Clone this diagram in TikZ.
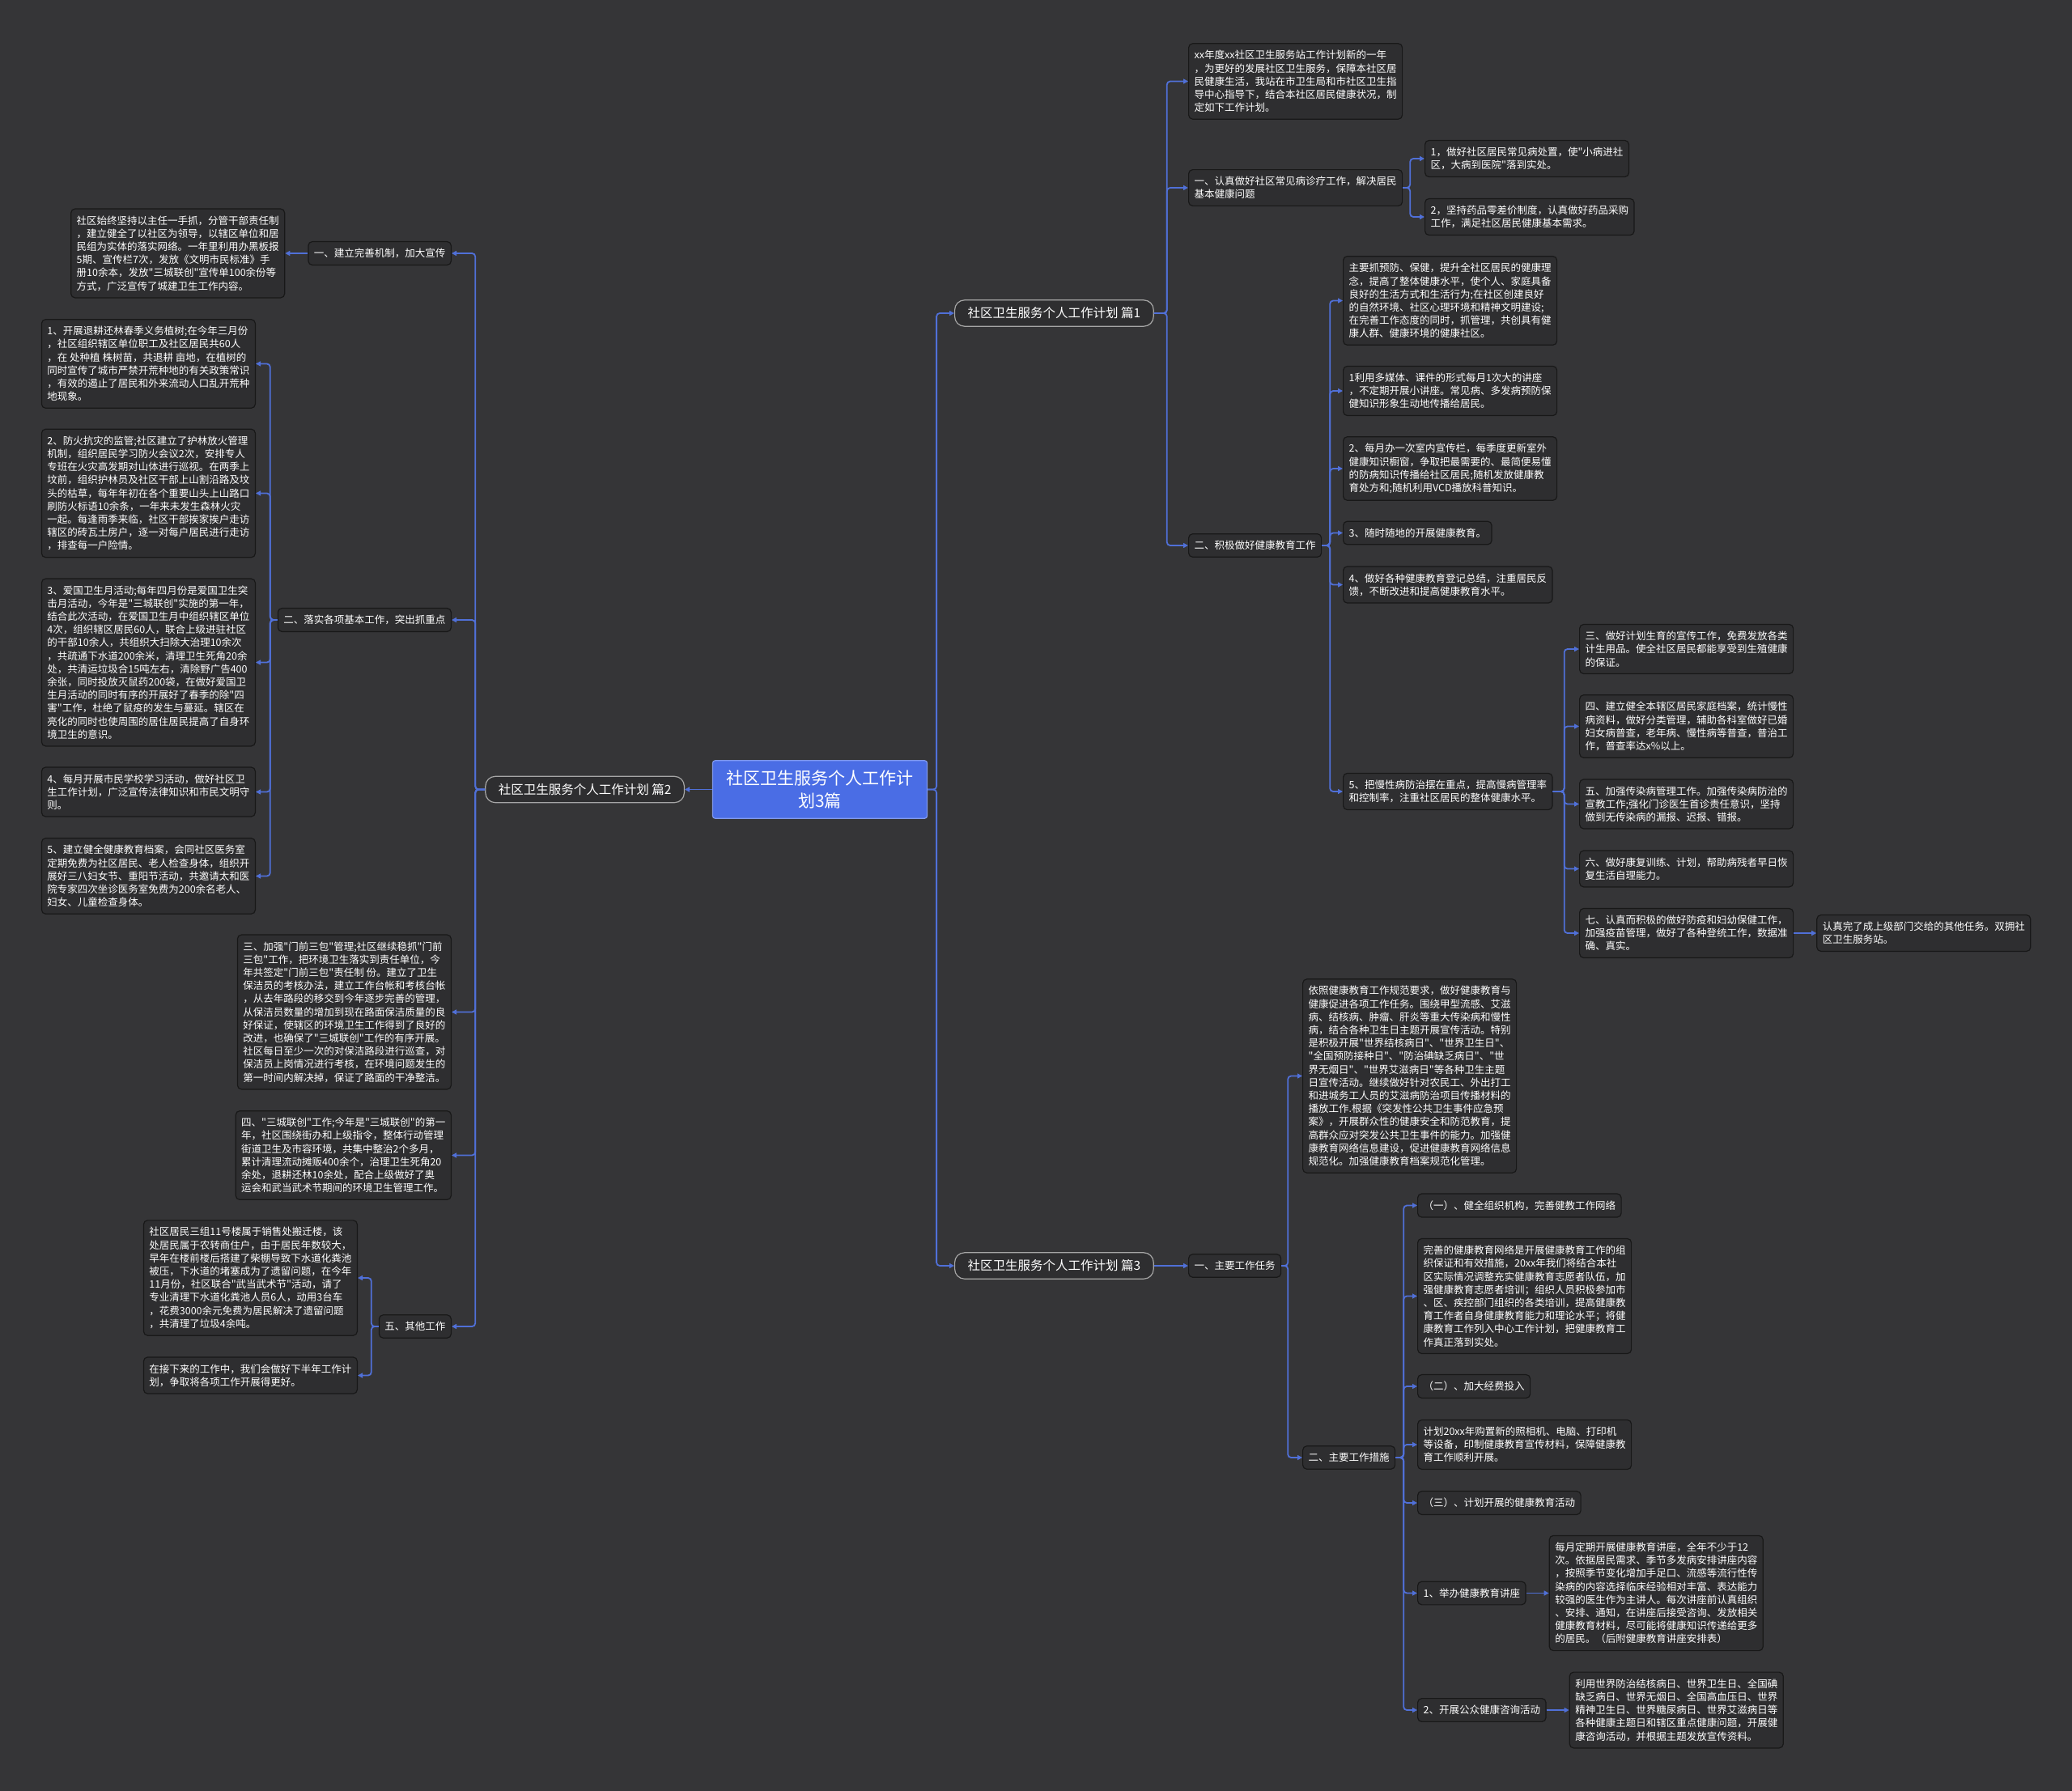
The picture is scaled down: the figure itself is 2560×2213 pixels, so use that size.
\documentclass[tikz,border=0pt]{standalone}
\usepackage{fontspec}
\newfontfamily\cjk{Noto Sans CJK SC}
\usetikzlibrary{arrows.meta, positioning}
\definecolor{bgcol}{HTML}{353537}
\definecolor{boxcol}{HTML}{2E2E30}
\definecolor{boxline}{HTML}{181818}
\definecolor{linecol}{HTML}{5070D8}
\definecolor{rootcol}{HTML}{4A6DE5}

\begin{document}
\begin{tikzpicture}[x=1pt, y=-1pt, node distance=28pt,
    box/.style={draw=boxline, fill=boxcol, rounded corners=5pt, line width=1.2pt,
      text=white, align=left, inner xsep=7pt, inner ysep=8.5pt,
      font=\cjk\fontsize{12.5}{16.2}\selectfont},
    plan/.style={draw=gray!70, fill=boxcol, rounded corners=12pt, line width=1.2pt,
      text=white, inner xsep=16pt, inner ysep=9pt, font=\cjk\fontsize{15.5}{18}\selectfont},
    root/.style={draw=rootcol!70!white, fill=rootcol, rounded corners=3pt, line width=1.2pt,
      text=white, align=center, inner xsep=17pt, inner ysep=12pt,
      font=\cjk\fontsize{21}{28}\selectfont},
    link/.style={draw=linecol, line width=1.8pt, rounded corners=4pt,
      -{Triangle[length=6pt,width=6pt]}}]
  \fill[bgcol] (0,0) rectangle (2560,2213);
  \useasboundingbox (0,0) rectangle (2560,2213);

  % Root and plans
  \node[root] (Root) at (1013,975.5) {社区卫生服务个人工作计\\划3篇};
  \node[plan, anchor=west] (PlanA) at (1179,387) {社区卫生服务个人工作计划 篇1};
  \node[plan, anchor=east] (PlanB) at (846,975.5) {社区卫生服务个人工作计划 篇2};
  \node[plan, anchor=west] (PlanC) at (1179,1564) {社区卫生服务个人工作计划 篇3};

  % Plan 1
  \node[box, anchor=west] (Intro) at (1468,100.5) {xx年度xx社区卫生服务站工作计划新的一年\\，为更好的发展社区卫生服务，保障本社区居\\民健康生活，我站在市卫生局和市社区卫生指\\导中心指导下，结合本社区居民健康状况，制\\定如下工作计划。};
  \node[box, anchor=west] (Clinic) at (1468,232) {一、认真做好社区常见病诊疗工作，解决居民\\基本健康问题};
  \node[box, anchor=west] (ClinicA) at (1760,196) {1，做好社区居民常见病处置，使"小病进社\\区，大病到医院"落到实处。};
  \node[box, anchor=west] (ClinicB) at (1760,268) {2，坚持药品零差价制度，认真做好药品采购\\工作，满足社区居民健康基本需求。};
  \node[box, anchor=west] (EduWork) at (1468,674) {二、积极做好健康教育工作};
  \node[box, anchor=west] (EduA) at (1659,371.5) {主要抓预防、保健，提升全社区居民的健康理\\念，提高了整体健康水平，使个人、家庭具备\\良好的生活方式和生活行为;在社区创建良好\\的自然环境、社区心理环境和精神文明建设;\\在完善工作态度的同时，抓管理，共创具有健\\康人群、健康环境的健康社区。};
  \node[box, anchor=west] (EduB) at (1659,483) {1利用多媒体、课件的形式每月1次大的讲座\\，不定期开展小讲座。常见病、多发病预防保\\健知识形象生动地传播给居民。};
  \node[box, anchor=west] (EduC) at (1659,579) {2、每月办一次室内宣传栏，每季度更新室外\\健康知识橱窗，争取把最需要的、最简便易懂\\的防病知识传播给社区居民;随机发放健康教\\育处方和;随机利用VCD播放科普知识。};
  \node[box, anchor=west] (EduD) at (1659,658.5) {3、随时随地的开展健康教育。};
  \node[box, anchor=west] (EduE) at (1659,722.5) {4、做好各种健康教育登记总结，注重居民反\\馈，不断改进和提高健康教育水平。};
  \node[box, anchor=west] (EduF) at (1659,978) {5、把慢性病防治摆在重点，提高慢病管理率\\和控制率，注重社区居民的整体健康水平。};
  \node[box, anchor=west] (ChronA) at (1951,802) {三、做好计划生育的宣传工作，免费发放各类\\计生用品。使全社区居民都能享受到生殖健康\\的保证。};
  \node[box, anchor=west] (ChronB) at (1951,897.5) {四、建立健全本辖区居民家庭档案，统计慢性\\病资料，做好分类管理，辅助各科室做好已婚\\妇女病普查，老年病、慢性病等普查，普治工\\作，普查率达x\%以上。};
  \node[box, anchor=west] (ChronC) at (1951,993.5) {五、加强传染病管理工作。加强传染病防治的\\宣教工作;强化门诊医生首诊责任意识，坚持\\做到无传染病的漏报、迟报、错报。};
  \node[box, anchor=west] (ChronD) at (1951,1073.5) {六、做好康复训练、计划，帮助病残者早日恢\\复生活自理能力。};
  \node[box, anchor=west] (ChronE) at (1951,1153) {七、认真而积极的做好防疫和妇幼保健工作，\\加强疫苗管理，做好了各种登统工作，数据准\\确、真实。};
  \node[box, right=of ChronE] (Extra) {认真完了成上级部门交给的其他任务。双拥社\\区卫生服务站。};

  % Plan 2
  \node[box, anchor=east] (Mechanism) at (558,313) {一、建立完善机制，加大宣传};
  \node[box, left=of Mechanism] (MechText) {社区始终坚持以主任一手抓，分管干部责任制\\，建立健全了以社区为领导，以辖区单位和居\\民组为实体的落实网络。一年里利用办黑板报\\5期、宣传栏7次，发放《文明市民标准》手\\册10余本，发放"三城联创"宣传单100余份等\\方式，广泛宣传了城建卫生工作内容。};
  \node[box, anchor=east] (Basics) at (558,766) {二、落实各项基本工作，突出抓重点};
  \node[box, anchor=east] (BasicA) at (316,449.5) {1、开展退耕还林春季义务植树;在今年三月份\\，社区组织辖区单位职工及社区居民共60人\\，在 处种植 株树苗，共退耕 亩地，在植树的\\同时宣传了城市严禁开荒种地的有关政策常识\\，有效的遏止了居民和外来流动人口乱开荒种\\地现象。};
  \node[box, anchor=east] (BasicB) at (316,609.5) {2、防火抗灾的监管;社区建立了护林放火管理\\机制，组织居民学习防火会议2次，安排专人\\专班在火灾高发期对山体进行巡视。在两季上\\坟前，组织护林员及社区干部上山割沿路及坟\\头的枯草，每年年初在各个重要山头上山路口\\刷防火标语10余条，一年来未发生森林火灾\\一起。每逢雨季来临，社区干部挨家挨户走访\\辖区的砖瓦土房户，逐一对每户居民进行走访\\，排查每一户险情。};
  \node[box, anchor=east] (BasicC) at (316,818.5) {3、爱国卫生月活动;每年四月份是爱国卫生突\\击月活动，今年是"三城联创"实施的第一年，\\结合此次活动，在爱国卫生月中组织辖区单位\\4次，组织辖区居民60人，联合上级进驻社区\\的干部10余人，共组织大扫除大治理10余次\\，共疏通下水道200余米，清理卫生死角20余\\处，共清运垃圾合15吨左右，清除野广告400\\余张，同时投放灭鼠药200袋，在做好爱国卫\\生月活动的同时有序的开展好了春季的除"四\\害"工作，杜绝了鼠疫的发生与蔓延。辖区在\\亮化的同时也使周围的居住居民提高了自身环\\境卫生的意识。};
  \node[box, anchor=east] (BasicD) at (316,978.5) {4、每月开展市民学校学习活动，做好社区卫\\生工作计划，广泛宣传法律知识和市民文明守\\则。};
  \node[box, anchor=east] (BasicE) at (316,1082.5) {5、建立健全健康教育档案，会同社区医务室\\定期免费为社区居民、老人检查身体，组织开\\展好三八妇女节、重阳节活动，共邀请太和医\\院专家四次坐诊医务室免费为200余名老人、\\妇女、儿童检查身体。};
  \node[box, anchor=east] (Doorstep) at (558,1250.5) {三、加强"门前三包"管理;社区继续稳抓"门前\\三包"工作，把环境卫生落实到责任单位，今\\年共签定"门前三包"责任制 份。建立了卫生\\保洁员的考核办法，建立工作台帐和考核台帐\\，从去年路段的移交到今年逐步完善的管理，\\从保洁员数量的增加到现在路面保洁质量的良\\好保证，使辖区的环境卫生工作得到了良好的\\改进，也确保了"三城联创"工作的有序开展。\\社区每日至少一次的对保洁路段进行巡查，对\\保洁员上岗情况进行考核，在环境问题发生的\\第一时间内解决掉，保证了路面的干净整洁。};
  \node[box, anchor=east] (Campaign) at (558,1427.5) {四、"三城联创"工作;今年是"三城联创"的第一\\年，社区围绕街办和上级指令，整体行动管理\\街道卫生及市容环境，共集中整治2个多月，\\累计清理流动摊贩400余个，治理卫生死角20\\余处，退耕还林10余处，配合上级做好了奥\\运会和武当武术节期间的环境卫生管理工作。};
  \node[box, anchor=east] (Other) at (558,1639) {五、其他工作};
  \node[box, anchor=east] (OtherA) at (442,1579) {社区居民三组11号楼属于销售处搬迁楼，该\\处居民属于农转商住户，由于居民年数较大，\\早年在楼前楼后搭建了柴棚导致下水道化粪池\\被压，下水道的堵塞成为了遗留问题，在今年\\11月份，社区联合"武当武术节"活动，请了\\专业清理下水道化粪池人员6人，动用3台车\\，花费3000余元免费为居民解决了遗留问题\\，共清理了垃圾4余吨。};
  \node[box, anchor=east] (OtherB) at (442,1699.5) {在接下来的工作中，我们会做好下半年工作计\\划，争取将各项工作开展得更好。};

  % Plan 3
  \node[box, anchor=west] (Tasks) at (1468,1564) {一、主要工作任务};
  \node[box, anchor=west] (TaskText) at (1609,1329.5) {依照健康教育工作规范要求，做好健康教育与\\健康促进各项工作任务。围绕甲型流感、艾滋\\病、结核病、肿瘤、肝炎等重大传染病和慢性\\病，结合各种卫生日主题开展宣传活动。特别\\是积极开展"世界结核病日"、"世界卫生日"、\\"全国预防接种日"、"防治碘缺乏病日"、"世\\界无烟日"、"世界艾滋病日"等各种卫生主题\\日宣传活动。继续做好针对农民工、外出打工\\和进城务工人员的艾滋病防治项目传播材料的\\播放工作.根据《突发性公共卫生事件应急预\\案》，开展群众性的健康安全和防范教育，提\\高群众应对突发公共卫生事件的能力。加强健\\康教育网络信息建设，促进健康教育网络信息\\规范化。加强健康教育档案规范化管理。};
  \node[box, anchor=west] (Measures) at (1609,1801) {二、主要工作措施};
  \node[box, anchor=west] (Org) at (1751,1489.5) {（一）、健全组织机构，完善健教工作网络};
  \node[box, anchor=west] (OrgText) at (1751,1601.5) {完善的健康教育网络是开展健康教育工作的组\\织保证和有效措施，20xx年我们将结合本社\\区实际情况调整充实健康教育志愿者队伍，加\\强健康教育志愿者培训；组织人员积极参加市\\、区、疾控部门组织的各类培训，提高健康教\\育工作者自身健康教育能力和理论水平；将健\\康教育工作列入中心工作计划，把健康教育工\\作真正落到实处。};
  \node[box, anchor=west] (Fund) at (1751,1713) {（二）、加大经费投入};
  \node[box, anchor=west] (FundText) at (1751,1785) {计划20xx年购置新的照相机、电脑、打印机\\等设备，印制健康教育宣传材料，保障健康教\\育工作顺利开展。};
  \node[box, anchor=west] (Activity) at (1751,1857) {（三）、计划开展的健康教育活动};
  \node[box, anchor=west] (Lecture) at (1751,1968.5) {1、举办健康教育讲座};
  \node[box, right=of Lecture] (LectureText) {每月定期开展健康教育讲座，全年不少于12\\次。依据居民需求、季节多发病安排讲座内容\\，按照季节变化增加手足口、流感等流行性传\\染病的内容选择临床经验相对丰富、表达能力\\较强的医生作为主讲人。每次讲座前认真组织\\、安排、通知，在讲座后接受咨询、发放相关\\健康教育材料，尽可能将健康知识传递给更多\\的居民。（后附健康教育讲座安排表）};
  \node[box, anchor=west] (Consult) at (1751,2113) {2、开展公众健康咨询活动};
  \node[box, right=of Consult] (ConsultText) {利用世界防治结核病日、世界卫生日、全国碘\\缺乏病日、世界无烟日、全国高血压日、世界\\精神卫生日、世界糖尿病日、世界艾滋病日等\\各种健康主题日和辖区重点健康问题，开展健\\康咨询活动，并根据主题发放宣传资料。};

  % Arrows
  \draw[link] (Root.east) -- ++(11,0) |- (PlanA.west);
  \draw[link] (Root.east) -- ++(11,0) |- (PlanC.west);
  \draw[link] (Root.west) -- (PlanB.east);

  \foreach \n in {Intro, Clinic, EduWork}
    \draw[link] (PlanA.east) -- ++(16,0) |- (\n.west);
  \foreach \n in {ClinicA, ClinicB}
    \draw[link] (Clinic.east) -- ++(9,0) |- (\n.west);
  \foreach \n in {EduA, EduB, EduC, EduD, EduE, EduF}
    \draw[link] (EduWork.east) -- ++(10,0) |- (\n.west);
  \foreach \n in {ChronA, ChronB, ChronC, ChronD, ChronE}
    \draw[link] (EduF.east) -- ++(14,0) |- (\n.west);
  \draw[link] (ChronE.east) -- (Extra.west);

  \foreach \n in {Mechanism, Basics, Doorstep, Campaign, Other}
    \draw[link] (PlanB.west) -- ++(-12,0) |- (\n.east);
  \draw[link] (Mechanism.west) -- (MechText.east);
  \foreach \n in {BasicA, BasicB, BasicC, BasicD, BasicE}
    \draw[link] (Basics.west) -- ++(-9,0) |- (\n.east);
  \foreach \n in {OtherA, OtherB}
    \draw[link] (Other.west) -- ++(-9,0) |- (\n.east);

  \draw[link] (PlanC.east) -- (Tasks.west);
  \foreach \n in {TaskText, Measures}
    \draw[link] (Tasks.east) -- ++(8,0) |- (\n.west);
  \foreach \n in {Org, OrgText, Fund, FundText, Activity, Lecture, Consult}
    \draw[link] (Measures.east) -- ++(10,0) |- (\n.west);
  \draw[link] (Lecture.east) -- (LectureText.west);
  \draw[link] (Consult.east) -- (ConsultText.west);
\end{tikzpicture}
\end{document}
